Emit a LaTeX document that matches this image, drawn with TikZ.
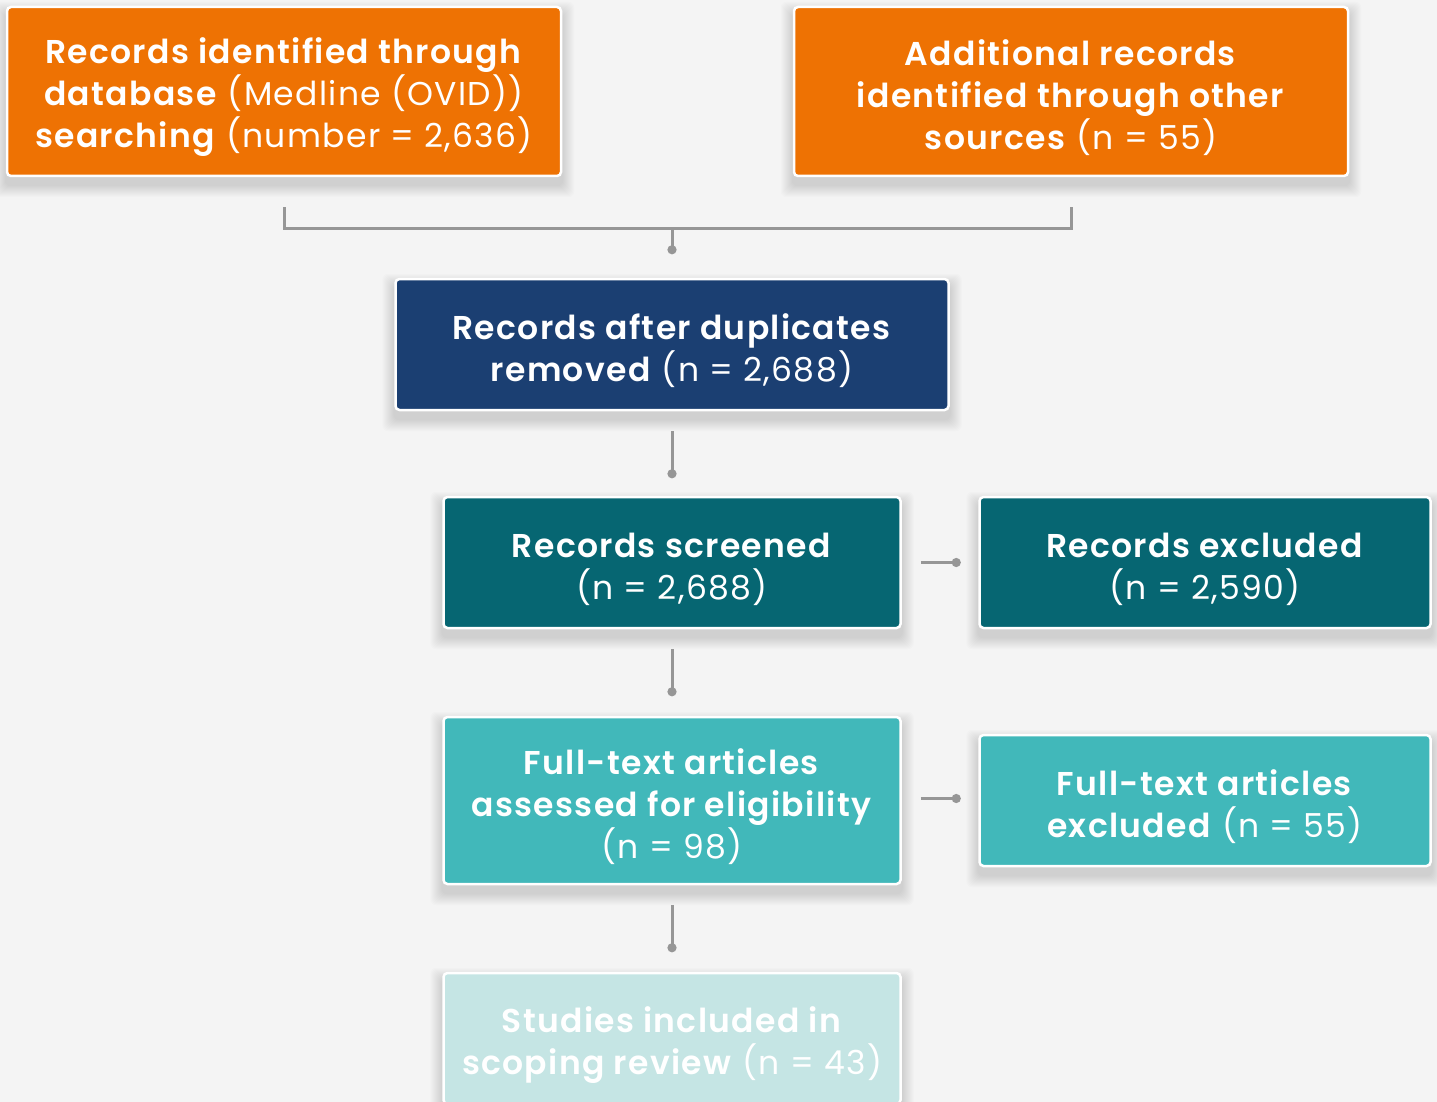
\documentclass[tikz,border=0pt]{standalone}
\usepackage{fontspec}
\setmainfont{Poppins}[BoldFont={Poppins SemiBold}, LetterSpace=4]
\usetikzlibrary{arrows.meta,calc}
\definecolor{bgc}{RGB}{244,244,244}
\definecolor{orng}{RGB}{238,114,3}
\definecolor{dblue}{RGB}{27,63,114}
\definecolor{dteal}{RGB}{6,102,114}
\definecolor{mteal}{RGB}{65,184,186}
\definecolor{pteal}{RGB}{197,229,228}
\definecolor{conng}{RGB}{150,150,150}
\pgfdeclarelayer{shadowlayer}
\pgfsetlayers{shadowlayer,main}
\newcommand{\dn}{\rule{0pt}{38pt}}
\tikzset{
  box/.style={draw=white, line width=2.5pt, rounded corners=4pt, align=center,
    text=white, inner sep=0pt, font=\fontsize{33}{42}\selectfont},
  conn/.style={draw=conng, line width=3pt},
  dotend/.style={conn, -{Circle[length=9pt,width=9pt]}}
}
\newcommand{\softshadow}[1]{%
  \begin{pgfonlayer}{shadowlayer}
  \foreach \i in {1,...,12}{
    \fill[black, opacity=0.011, rounded corners=6pt]
      ($(#1.north west)+(-\i,-\i+8)$) rectangle ($(#1.south east)+(\i,\i+8)$);
  }
  \end{pgfonlayer}}
\begin{document}
\begin{tikzpicture}[x=1pt,y=-1pt]
\begin{pgfonlayer}{shadowlayer}
\fill[bgc] (0,0) rectangle (1437,1102);
\end{pgfonlayer}
\useasboundingbox (0,0) rectangle (1437,1102);
\begin{scope}
\clip (0,0) rectangle (1437,1102);
\node[box, fill=orng, minimum width=554pt, minimum height=169pt] (A) at (284,91.5)
  {\dn\textbf{Records identified through}\\\textbf{database} (Medline (OVID))\\\textbf{searching} (number = 2,636)};
\node[box, fill=orng, minimum width=554pt, minimum height=169pt] (B) at (1071,91.5)
  {\dn\textbf{Additional records}\\\textbf{identified through other}\\\textbf{sources} (n = 55)};
\node[box, fill=dblue, minimum width=553pt, minimum height=131pt] (C) at (672,344.5)
  {\dn\textbf{Records after duplicates}\\\textbf{removed} (n = 2,688)};
\node[box, fill=dteal, minimum width=457pt, minimum height=131pt] (D) at (672,562.5)
  {\dn\textbf{Records screened}\\(n = 2,688)};
\node[box, fill=dteal, minimum width=451pt, minimum height=131pt] (E) at (1205,562.5)
  {\dn\textbf{Records excluded}\\(n = 2,590)};
\node[box, fill=mteal, minimum width=457pt, minimum height=167pt] (F) at (672,800.5)
  {\dn\textbf{Full-text articles}\\\textbf{assessed for eligibility}\\(n = 98)};
\node[box, fill=mteal, minimum width=451pt, minimum height=131pt] (G) at (1205,800.5)
  {\dn\textbf{Full-text articles}\\\textbf{excluded} (n = 55)};
\node[box, fill=pteal, minimum width=457pt, minimum height=131pt] (H) at (672,1038.5)
  {\dn\textbf{Studies included in}\\\textbf{scoping review} (n = 43)};
\softshadow{A}\softshadow{B}\softshadow{C}\softshadow{D}
\softshadow{E}\softshadow{F}\softshadow{G}\softshadow{H}
\end{scope}
\coordinate (abr) at ($(A.south)+(0,30)$);
\coordinate (bbr) at ($(B.south)+(0,30)$);
\coordinate (mid) at (672,228);
\draw[conn] (abr) |- (mid) -| (bbr);
\draw[dotend] (mid) -- ($(C.north)+(0,-23.5)$);
\draw[dotend] ($(C.south)+(0,20)$) -- ($(D.north)+(0,-17.5)$);
\draw[dotend] ($(D.south)+(0,20)$) -- ($(F.north)+(0,-19.5)$);
\draw[dotend] ($(F.south)+(0,20)$) -- ($(H.north)+(0,-19.5)$);
\draw[dotend] ($(D.east)+(19,0)$) -- ($(E.west)+(-17.5,0)$);
\draw[dotend] ($(F.east)+(19,-2)$) -- ($(G.west)+(-17.5,-2)$);
\end{tikzpicture}
\end{document}
